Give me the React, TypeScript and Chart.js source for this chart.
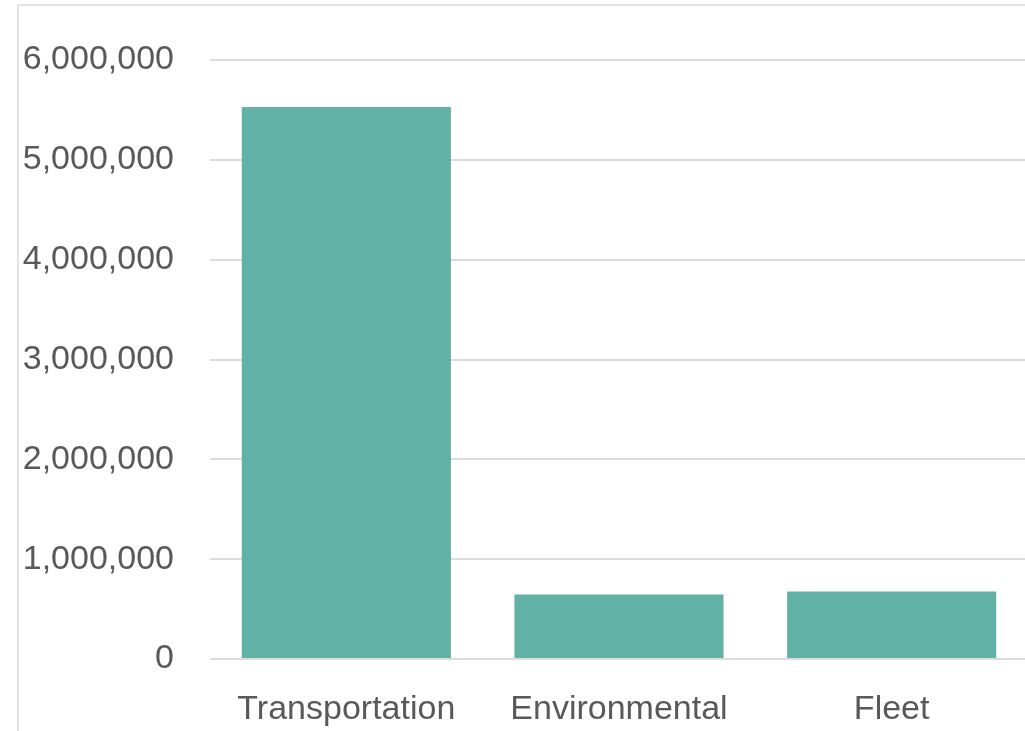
import React, { useEffect, useRef } from "react";
import { Chart, registerables } from "chart.js";

Chart.register(...registerables);

const categories = ["Transportation", "Environmental", "Fleet"];
const values = [5530000, 645000, 675000];
const yTicks = [0, 1000000, 2000000, 3000000, 4000000, 5000000, 6000000];

export default function App() {
  const ref = useRef<HTMLCanvasElement | null>(null);

  useEffect(() => {
    document.body.style.margin = "0";
    const canvas = ref.current;
    if (!canvas) return;
    const font = { family: "'Liberation Sans', Arial, sans-serif", size: 34 };
    const chart = new Chart(canvas, {
      type: "bar",
      data: {
        labels: categories,
        datasets: [
          {
            data: values,
            backgroundColor: "#62B1A7",
            barPercentage: 0.767,
            categoryPercentage: 1,
          },
        ],
      },
      options: {
        animation: false,
        responsive: false,
        devicePixelRatio: 1,
        layout: { padding: { top: 60, left: 0, right: 0, bottom: 0 } },
        plugins: { legend: { display: false }, tooltip: { enabled: false } },
        scales: {
          x: {
            grid: { display: false },
            border: { display: false },
            ticks: { color: "#595959", font, padding: 22, maxRotation: 0 },
            afterFit: (s: any) => {
              s.height = 72;
            },
          },
          y: {
            min: 0,
            max: 6000000,
            afterBuildTicks: (s: any) => {
              s.ticks = yTicks.map((v) => ({ value: v }));
            },
            grid: { color: "#DCDCDC", lineWidth: 2, drawTicks: false },
            border: { display: false },
            ticks: {
              color: "#595959",
              font,
              padding: 36,
              callback: (v: any) => Number(v).toLocaleString("en-US"),
            },
            afterFit: (s: any) => {
              s.width = 210;
            },
          },
        },
      },
    });
    return () => chart.destroy();
  }, []);

  return (
    <div
      style={{
        position: "fixed",
        left: 0,
        top: 0,
        width: 1025,
        height: 731,
        overflow: "hidden",
        background: "#fff",
      }}
    >
      <div
        style={{
          position: "absolute",
          left: 17,
          top: 4,
          width: 1025,
          height: 731,
          borderTop: "2px solid #E3E3E3",
          borderLeft: "2px solid #E3E3E3",
        }}
      />
      <canvas
        ref={ref}
        width={1028}
        height={731}
        style={{ position: "absolute", left: 0, top: 0, width: 1028, height: 731 }}
      />
    </div>
  );
}
